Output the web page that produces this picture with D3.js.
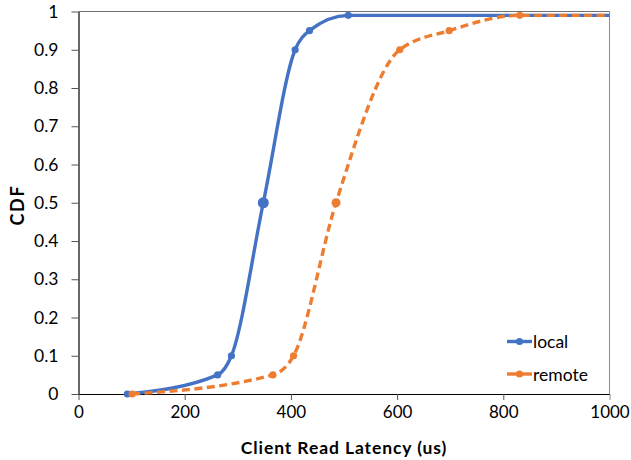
<!DOCTYPE html>
<html>
<head>
<meta charset="utf-8">
<script src="https://cdn.jsdelivr.net/npm/d3@7"></script>
<style>
  html, body { margin: 0; padding: 0; background: #fff; }
  svg { display: block; }
  text { font-family: Lato, "Open Sans", sans-serif; fill: #000; }
</style>
</head>
<body>
<svg id="chart" width="631" height="460"></svg>
<script>
// ---- data ----
const seriesNames = ["local", "remote"];
const localX  = [92, 262, 288, 348, 408, 435, 508, 1000];
const localY  = [0, 0.05, 0.1, 0.5, 0.9, 0.95, 0.99, 0.99];
const remoteX = [101, 366, 405, 485, 605, 698, 831, 1000];
const remoteY = [0, 0.05, 0.1, 0.5, 0.9, 0.95, 0.99, 0.99];
const xTicks = [0, 200, 400, 600, 800, 1000];
const yTicks = [0, 0.1, 0.2, 0.3, 0.4, 0.5, 0.6, 0.7, 0.8, 0.9, 1];
const xTitle = "Client Read Latency (us)";
const yTitle = "CDF";

// ---- layout ----
const W = 631, H = 460;
const plot = { left: 78.5, right: 609.5, top: 11.5, bottom: 394 };
const colors = { local: "#4472C4", remote: "#ED7D31" };

const svg = d3.select("#chart");
const x = d3.scaleLinear().domain([0, 1000]).range([plot.left, plot.right]);
const y = d3.scaleLinear().domain([0, 1]).range([plot.bottom, plot.top]);

// plot frame (top/right light border)
svg.append("line").attr("x1", plot.left).attr("x2", plot.right)
  .attr("y1", plot.top).attr("y2", plot.top)
  .attr("stroke", "#707070").attr("stroke-width", 1);
svg.append("line").attr("x1", plot.right).attr("x2", plot.right)
  .attr("y1", plot.top).attr("y2", plot.bottom)
  .attr("stroke", "#8a8a8a").attr("stroke-width", 1);

// axes
const xAxis = d3.axisBottom(x).tickValues(xTicks).tickSizeInner(6).tickSizeOuter(0)
  .tickPadding(6).tickFormat(d3.format("d"));
const gx = svg.append("g").attr("transform", `translate(0,${plot.bottom})`).call(xAxis);
gx.select(".domain").attr("stroke", "#000").attr("stroke-width", 1.2);
gx.selectAll(".tick line").attr("stroke", "#555");
gx.selectAll(".tick:last-child line").attr("stroke", "#8a8a8a");
gx.selectAll(".tick text").attr("font-size", 17).attr("font-family", "Lato, sans-serif")
  .attr("fill", "#000");

const yAxis = d3.axisLeft(y).tickValues(yTicks).tickSizeInner(7).tickSizeOuter(0)
  .tickPadding(13).tickFormat(d => d === 0 ? "0" : (d === 1 ? "1" : d3.format(".1f")(d)));
const gy = svg.append("g").attr("transform", `translate(${plot.left},0)`).call(yAxis);
gy.select(".domain").attr("stroke", "#000").attr("stroke-width", 1.2);
gy.selectAll(".tick line").attr("stroke", "#555");
gy.selectAll(".tick text").attr("font-size", 17.5).attr("font-family", "Lato, sans-serif")
  .attr("fill", "#000");

// axis titles
svg.append("text").attr("x", (plot.left + plot.right) / 2).attr("y", 454)
  .attr("text-anchor", "middle").attr("font-size", 17.5).attr("font-weight", "bold")
  .attr("letter-spacing", 0.9)
  .text(xTitle);
svg.append("text").attr("transform", `translate(24,205) rotate(-90)`)
  .attr("text-anchor", "middle").attr("font-size", 18).attr("font-weight", "bold")
  .attr("letter-spacing", 1.8)
  .text(yTitle);

// series
const series = [
  { name: "local",  pts: localX.map((v, i) => ({ x: v, y: localY[i] })),  dash: null },
  { name: "remote", pts: remoteX.map((v, i) => ({ x: v, y: remoteY[i] })), dash: "8,4.5" }
];

const line = d3.line().x(d => x(d.x)).y(d => y(d.y)).curve(d3.curveMonotoneX);

series.forEach(s => {
  svg.append("path").datum(s.pts)
    .attr("d", line).attr("fill", "none")
    .attr("stroke", colors[s.name]).attr("stroke-width", 3.4)
    .attr("stroke-dasharray", s.dash)
    .attr("stroke-linejoin", "round");
  svg.append("g").selectAll("circle")
    .data(s.pts.filter(d => d.x < 1000))
    .join("circle")
    .attr("cx", d => x(d.x)).attr("cy", d => y(d.y))
    .attr("r", d => d.y === 0.5 ? (s.name === "local" ? 5.5 : 4.5) : 3.6)
    .attr("fill", colors[s.name]);
});

// legend
const legend = svg.append("g");
seriesNames.forEach((n, i) => {
  const ly = 341.5 + i * 32.5;
  const g = legend.append("g");
  g.append("line").attr("x1", 507).attr("x2", 532).attr("y1", ly).attr("y2", ly)
    .attr("stroke", colors[n]).attr("stroke-width", 3.4);
  g.append("circle").attr("cx", 519.5).attr("cy", ly).attr("r", 3.6).attr("fill", colors[n]);
  g.append("text").attr("x", 533).attr("y", ly + 6.5).attr("font-size", 17.5).text(n);
});
</script>
</body>
</html>
